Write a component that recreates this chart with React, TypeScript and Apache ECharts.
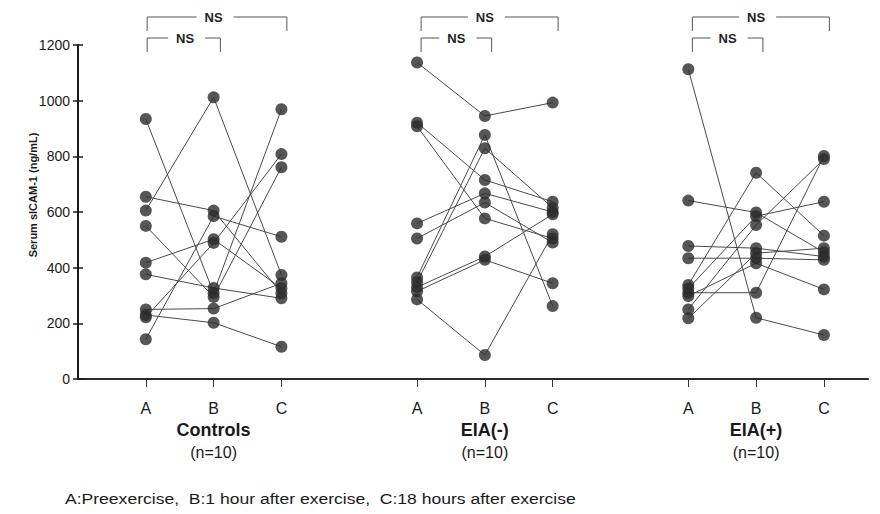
import React, { useEffect, useRef } from "react";
import * as echarts from "echarts";

// Time points and groups along the x axis
const timepoints = ["A", "B", "C"];
const groups = ["Controls", "EIA(-)", "EIA(+)"];
const groupSizes = ["(n=10)", "(n=10)", "(n=10)"];
// x value of time point A for each group (one empty slot between groups)
const groupBase = [0, 4, 8];

const yTicks = [0, 200, 400, 600, 800, 1000, 1200];
const yTitle = "Serum sICAM-1 (ng/mL)";
const footnote = "A:Preexercise,  B:1 hour after exercise,  C:18 hours after exercise";
const comparisonLabel = "NS";

// Serum sICAM-1 (ng/mL) per subject; index i is the same subject at A, B and C
const controlsA = [934, 655, 605, 550, 418, 376, 250, 230, 222, 143];
const controlsB = [309, 605, 1012, 295, 502, 327, 253, 202, 489, 585];
const controlsC = [969, 308, 374, 761, 326, 290, 344, 116, 808, 511];

const eiaNegA = [1137, 921, 908, 559, 505, 365, 348, 330, 315, 286];
const eiaNegB = [945, 715, 577, 667, 634, 877, 829, 440, 428, 86];
const eiaNegC = [993, 637, 505, 600, 490, 262, 615, 592, 344, 520];

const eiaPosA = [1113, 641, 478, 434, 338, 325, 310, 298, 250, 218];
const eiaPosB = [220, 598, 470, 434, 741, 585, 310, 416, 553, 452];
const eiaPosC = [158, 455, 440, 428, 515, 637, 801, 322, 790, 470];

const groupValues = [
  [controlsA, controlsB, controlsC],
  [eiaNegA, eiaNegB, eiaNegC],
  [eiaPosA, eiaPosB, eiaPosC],
];

const FONT = '"Liberation Sans", Arial, sans-serif';

export default function App() {
  const ref = useRef<HTMLDivElement>(null);

  useEffect(() => {
    if (!ref.current) return;
    const chart = echarts.init(ref.current, null, { renderer: "svg" });

    const lineSeries: any[] = [];
    const points: number[][] = [];
    groupValues.forEach((vals, g) => {
      const base = groupBase[g];
      for (let i = 0; i < vals[0].length; i++) {
        const data = vals.map((arr, t) => [base + t, arr[i]]);
        data.forEach((d) => points.push(d));
        lineSeries.push({
          type: "line",
          data,
          symbol: "none",
          silent: true,
          lineStyle: { color: "#4a4a4a", width: 1 },
          z: 2,
        });
      }
    });

    const tickValues: number[] = [];
    groupBase.forEach((b) => timepoints.forEach((_, t) => tickValues.push(b + t)));

    // comparison brackets: [xStart, xEnd, xText, level]
    const brackets: number[][] = [];
    groupBase.forEach((b, g) => {
      brackets.push([b + (g === 0 ? 0.02 : 0.06), b + 2.08, b + 1, 0]);
      brackets.push([b + (g === 0 ? 0.02 : 0.06), b + 1.1, b + 0.58, 1]);
    });

    const labelFor = (v: number) => {
      for (let g = 0; g < groupBase.length; g++) {
        const t = Math.round(v - groupBase[g]);
        if (t >= 0 && t < timepoints.length && Math.abs(v - groupBase[g] - t) < 1e-6) {
          let s = `{t|${timepoints[t]}}`;
          if (t === 1) s += `\n{g|${groups[g]}}\n{n|${groupSizes[g]}}`;
          return s;
        }
      }
      return "";
    };

    const yAxisBase = {
      type: "value",
      position: "left",
      min: yTicks[0],
      max: yTicks[yTicks.length - 1],
      interval: yTicks[1] - yTicks[0],
      splitLine: { show: false },
      axisLine: { show: true, onZero: false, lineStyle: { color: "#1a1a1a", width: 2 } },
    };

    chart.setOption({
      animation: false,
      backgroundColor: "#ffffff",
      grid: { left: 78, right: 12, top: 45, bottom: 135, containLabel: false },
      xAxis: {
        type: "value",
        min: -1,
        max: 10.65,
        splitLine: { show: false },
        axisLine: { show: true, onZero: false, lineStyle: { color: "#2a2a2a", width: 2 } },
        axisTick: {
          show: true,
          customValues: tickValues,
          length: 8,
          lineStyle: { color: "#333", width: 1 },
        },
        axisLabel: {
          show: true,
          customValues: tickValues,
          margin: 18,
          formatter: labelFor,
          color: "#1a1a1a",
          fontFamily: FONT,
          rich: {
            t: { fontSize: 16, lineHeight: 22, fontFamily: FONT, color: "#1a1a1a" },
            g: { fontSize: 18, fontWeight: "bold", lineHeight: 22, fontFamily: FONT, color: "#1a1a1a" },
            n: { fontSize: 16, lineHeight: 22, fontFamily: FONT, color: "#1a1a1a" },
          },
        },
      },
      yAxis: [
        {
          ...yAxisBase,
          axisTick: { show: true, length: 5, lineStyle: { color: "#1a1a1a", width: 1.5 } },
          axisLabel: {
            margin: 8,
            fontSize: 14,
            color: "#1a1a1a",
            fontFamily: FONT,
            formatter: (v: number) => String(v),
          },
        },
        {
          ...yAxisBase,
          axisTick: { show: true, inside: true, length: 5, lineStyle: { color: "#1a1a1a", width: 1.5 } },
          axisLabel: { show: false },
        },
      ],
      series: [
        ...lineSeries,
        {
          type: "scatter",
          data: points,
          symbol: "circle",
          symbolSize: 12,
          silent: true,
          itemStyle: { color: "#2c2c2c" },
          z: 5,
        },
        {
          type: "custom",
          data: brackets,
          clip: false,
          silent: true,
          z: 6,
          renderItem: (_params: any, api: any) => {
            const x1 = api.coord([api.value(0), 0])[0];
            const x2 = api.coord([api.value(1), 0])[0];
            const xt = api.coord([api.value(2), 0])[0];
            const level = api.value(3);
            const y = level === 0 ? 17 : 38;
            const drop = 14;
            const lineStyle = { stroke: "#555", lineWidth: 1, fill: null };
            return {
              type: "group",
              children: [
                {
                  type: "polyline",
                  shape: { points: [[x1, y + drop], [x1, y], [xt - 17, y]] },
                  style: lineStyle,
                },
                {
                  type: "polyline",
                  shape: { points: [[xt + 20, y], [x2, y], [x2, y + drop]] },
                  style: lineStyle,
                },
                {
                  type: "text",
                  style: {
                    text: comparisonLabel,
                    x: xt,
                    y,
                    align: "center",
                    verticalAlign: "middle",
                    fontSize: 13,
                    fontWeight: "bold",
                    fontFamily: FONT,
                    fill: "#222",
                  },
                },
              ],
            };
          },
        },
      ],
      graphic: [
        {
          type: "text",
          x: 33,
          y: 195,
          rotation: Math.PI / 2,
          style: {
            text: yTitle,
            align: "center",
            verticalAlign: "middle",
            fontSize: 11,
            fontWeight: "bold",
            fontFamily: FONT,
            fill: "#1a1a1a",
          },
        },
        {
          type: "text",
          x: 65,
          y: 498,
          scaleX: 1.17,
          style: {
            text: footnote,
            align: "left",
            verticalAlign: "middle",
            fontSize: 15,
            fontFamily: FONT,
            fill: "#1a1a1a",
          },
        },
      ],
    });

    return () => chart.dispose();
  }, []);

  return (
    <div
      ref={ref}
      style={{ position: "absolute", left: 0, top: 0, width: 880, height: 514 }}
    />
  );
}
